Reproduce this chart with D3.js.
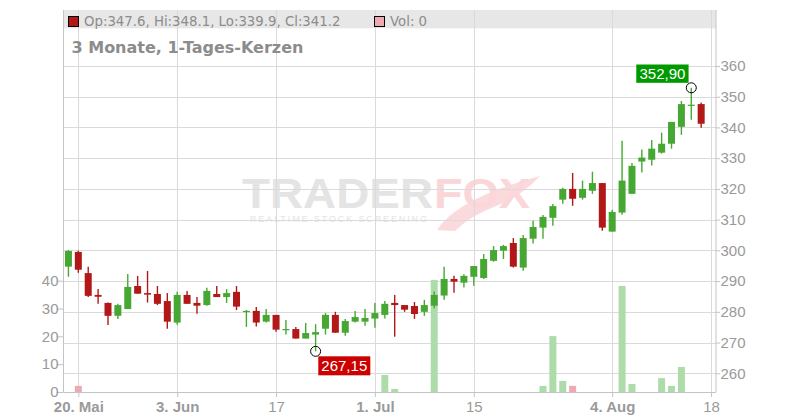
<!DOCTYPE html>
<html><head><meta charset="utf-8">
<script src="https://cdn.jsdelivr.net/npm/d3@7"></script>
<style>html,body{margin:0;padding:0;background:#fff;}svg{display:block;font-family:"Liberation Sans",Arial,sans-serif;}</style>
</head><body>
<svg id="c" width="800" height="420"></svg>
<script>
// ---- data ----
const openP  = [294.7,299.5,292.6,285.5,282.9,278.7,280.9,288.4,286.1,285.8,283.5,276.5,285.5,282.9,282.2,285.8,284.8,286.5,280.0,280.3,276.8,279.0,274.1,274.4,271.3,272.6,274.5,279.0,273.2,276.8,276.8,277.8,279.0,282.9,282.2,281.9,280.0,282.0,285.3,290.7,289.5,291.4,291.0,296.6,299.9,302.4,294.4,303.8,307.4,310.6,316.5,320.0,317.1,319.4,321.9,306.1,312.3,318.4,328.9,329.5,331.8,334.7,340.2,347.1,347.6];
const highP  = [300.1,299.9,294.7,287.4,283.0,282.6,292.3,291.7,293.3,288.4,286.1,286.5,286.8,284.8,287.8,288.4,287.4,288.4,280.6,281.6,280.9,279.0,277.3,275.1,276.4,276.0,279.6,280.0,277.7,280.3,280.9,282.9,283.5,285.5,282.2,283.2,283.9,286.6,294.7,291.7,292.2,294.9,298.8,301.4,301.8,304.0,305.0,309.6,311.5,315.1,320.4,325.2,322.7,325.6,321.9,313.2,335.7,328.4,332.8,335.9,338.3,341.8,348.6,352.9,348.1];
const lowP   = [291.4,292.7,284.8,282.6,275.7,277.7,280.9,285.9,283.0,282.2,274.5,275.8,282.6,279.4,282.0,284.8,282.9,280.6,275.1,275.2,276.5,273.5,272.6,271.3,271.3,267.15,272.6,273.2,272.2,276.5,275.5,274.8,277.8,271.9,280.0,277.7,278.7,281.2,283.9,286.2,287.9,288.5,290.7,296.3,297.2,294.4,293.4,302.2,303.8,308.0,315.2,314.5,316.5,318.4,306.4,306.1,311.6,318.4,325.3,327.6,331.5,333.1,337.6,342.5,339.9];
const closeP = [299.8,293.7,285.2,284.9,278.7,282.2,288.1,285.9,285.6,282.6,276.8,285.5,282.6,282.0,286.8,284.8,286.1,281.7,280.3,276.5,279.0,274.2,274.4,271.3,273.1,273.4,279.0,273.2,277.0,278.3,278.0,279.6,282.6,282.2,280.7,279.3,282.2,285.5,290.7,289.8,291.7,294.9,297.2,300.1,301.4,294.7,304.0,307.6,310.9,314.4,320.0,316.8,320.0,321.9,307.4,312.5,322.7,327.5,330.2,333.1,334.7,341.8,347.6,347.4,341.2];
const volume = [0,2.2,0,0,0,0,0,0,0,0, 0,0,0,0,0,0,0,0,0,0, 0,0,0,0,0,0,0,0,0,0, 0,0,6.1,1.1,0,0,0,40.3,0,0, 0,0,0,0,0,0,0,0,2.2,20.1, 4.0,2.2,0,0,0,0,38.1,2.9,0,0, 5.0,2.2,9.0,0,0];
const volDownIdx = [1, 51];
const xTickIdx = [1, 11, 21, 31, 41, 55, 65];
const xTickLabels = ["20. Mai","3. Jun","17","1. Jul","15","4. Aug","18"];
const xTickBold = [true, true, false, true, false, true, false];
const priceTicks = [260,270,280,290,300,310,320,330,340,350,360];
const volTicks = [0,10,20,30,40];
const titleText = "3 Monate, 1-Tages-Kerzen";
const legendOHLC = "Op:347.6, Hi:348.1, Lo:339.9, Cl:341.2";
const legendVol = "Vol: 0";
const highLabel = "352,90", lowLabel = "267,15";

// ---- layout ----
const L = 63.5, R = 716, T = 10, B = 392;
const GREEN = "#46a832", RED = "#b21818", VGREEN = "#addcaa", VPINK = "#efa9b3";
const GRID = "#dadada", TXT = "#9a9a9a";
const DJ = '"DejaVu Sans",Verdana,sans-serif';

const svg = d3.select("#c");
const x = d3.scaleLinear().domain([-0.5, 65.5]).range([L, R]);
const yP = d3.scaleLinear().domain([253.91, 378.22]).range([B, T]);
const yV = d3.scaleLinear().domain([0, 137.3]).range([B, T]);

// header bar
svg.append("rect").attr("x", L).attr("y", T).attr("width", R - L).attr("height", 18.3).attr("fill", "#e7e7e7");

// watermark
const wm = svg.append("g");
wm.append("text").attr("x", 242).attr("y", 207.7).attr("font-size", 42).attr("font-weight", "bold")
  .attr("textLength", 191).attr("lengthAdjust", "spacingAndGlyphs").attr("fill", "#e4e4e4").text("TRADER");
wm.append("text").attr("x", 434).attr("y", 207.7).attr("font-size", 42).attr("font-weight", "bold")
  .attr("textLength", 96).attr("lengthAdjust", "spacingAndGlyphs").attr("fill", "#fbd6d9").text("FOX");
wm.append("text").attr("x", 250).attr("y", 222).attr("font-size", 9)
  .attr("textLength", 177).attr("lengthAdjust", "spacing").attr("fill", "#e4e4e4").text("REALTIME STOCK SCREENING");
wm.append("path").attr("d", "M437,230 Q458,198 540,176 Q522,196 494,207 Q470,216 455,231 Z").attr("fill", "#fbd6d9").attr("opacity", 0.9);

// grid
svg.append("g").selectAll("line").data(priceTicks).join("line")
  .attr("x1", L).attr("x2", R).attr("y1", d => Math.round(yP(d)) + 0.5).attr("y2", d => Math.round(yP(d)) + 0.5)
  .attr("stroke", GRID).attr("stroke-width", 1);
svg.append("g").selectAll("line").data(xTickIdx).join("line")
  .attr("x1", d => Math.round(x(d)) + 0.5).attr("x2", d => Math.round(x(d)) + 0.5).attr("y1", T).attr("y2", B)
  .attr("stroke", GRID).attr("stroke-width", 1);

// axis lines
svg.append("line").attr("x1", L).attr("x2", L).attr("y1", T).attr("y2", B).attr("stroke", "#c4c4c4");
svg.append("line").attr("x1", R).attr("x2", R).attr("y1", T).attr("y2", B).attr("stroke", "#c4c4c4");
svg.append("line").attr("x1", L).attr("x2", R).attr("y1", B + 0.5).attr("y2", B + 0.5).attr("stroke", "#c4c4c4");

// volume bars
const bw = 7;
svg.append("g").selectAll("rect").data(volume.map((v, i) => ({v, i})).filter(d => d.v > 0)).join("rect")
  .attr("x", d => x(d.i) - bw / 2).attr("width", bw)
  .attr("y", d => yV(d.v)).attr("height", d => yV(0) - yV(d.v))
  .attr("fill", d => volDownIdx.includes(d.i) ? VPINK : VGREEN);

// candles
const candles = openP.map((o, i) => ({i, o, h: highP[i], l: lowP[i], c: closeP[i]}));
const cg = svg.append("g");
cg.selectAll("line").data(candles).join("line")
  .attr("x1", d => x(d.i)).attr("x2", d => x(d.i))
  .attr("y1", d => yP(d.h)).attr("y2", d => yP(d.l))
  .attr("stroke", d => d.c >= d.o ? GREEN : RED).attr("stroke-width", 1.4);
cg.selectAll("rect").data(candles).join("rect")
  .attr("x", d => x(d.i) - bw / 2).attr("width", bw)
  .attr("y", d => yP(Math.max(d.o, d.c)))
  .attr("height", d => Math.max(1.2, Math.abs(yP(d.o) - yP(d.c))))
  .attr("fill", d => d.c >= d.o ? GREEN : RED);

// axes
const styleAxis = g => {
  g.select(".domain").remove();
  g.selectAll(".tick line").attr("stroke", "#c4c4c4");
  g.selectAll(".tick text").attr("fill", TXT).attr("font-size", 15).attr("font-family", '"Liberation Sans",Arial,sans-serif');
};
svg.append("g").attr("transform", `translate(${R},0)`)
  .call(d3.axisRight(yP).tickValues(priceTicks).tickSize(4).tickPadding(0.5).tickSizeOuter(0)).call(styleAxis);
svg.append("g").attr("transform", `translate(${L},0)`)
  .call(d3.axisLeft(yV).tickValues(volTicks).tickSize(7).tickPadding(-2).tickSizeOuter(0)).call(styleAxis);
const xa = svg.append("g").attr("transform", `translate(0,${B})`)
  .call(d3.axisBottom(x).tickValues(xTickIdx).tickFormat((d, i) => xTickLabels[i]).tickSize(5).tickPadding(4).tickSizeOuter(0))
  .call(styleAxis);
xa.selectAll(".tick text").attr("font-weight", (d, i) => xTickBold[i] ? "bold" : "normal");

// legend
svg.append("rect").attr("x", 68.5).attr("y", 16.5).attr("width", 10).attr("height", 10).attr("fill", RED).attr("stroke", "#000").attr("stroke-width", 1);
svg.append("text").attr("x", 84).attr("y", 26.3).attr("font-size", 13.3).attr("font-family", DJ).attr("fill", "#8c8c8c").text(legendOHLC);
svg.append("rect").attr("x", 374.5).attr("y", 16.5).attr("width", 10).attr("height", 10).attr("fill", VPINK).attr("stroke", "#000").attr("stroke-width", 1);
svg.append("text").attr("x", 390).attr("y", 26.3).attr("font-size", 13.3).attr("font-family", DJ).attr("fill", "#8c8c8c").text(legendVol);

// title
svg.append("text").attr("x", 71.5).attr("y", 53.3).attr("font-size", 16).attr("font-weight", "bold").attr("font-family", DJ).attr("fill", "#8c8c8c").text(titleText);

// high / low markers
const hiIdx = highP.indexOf(d3.max(highP)), loIdx = lowP.indexOf(d3.min(lowP));
const hx = x(hiIdx), hy = yP(highP[hiIdx]), lx = x(loIdx), ly = yP(lowP[loIdx]);
svg.append("circle").attr("cx", hx).attr("cy", hy).attr("r", 5).attr("fill", "none").attr("stroke", "#000");
svg.append("circle").attr("cx", lx).attr("cy", ly).attr("r", 5).attr("fill", "none").attr("stroke", "#000");
svg.append("rect").attr("x", hx - 55).attr("y", hy - 23.3).attr("width", 52.3).attr("height", 18.3).attr("fill", "#009900");
svg.append("text").attr("x", hx - 28.8).attr("y", hy - 8.6).attr("text-anchor", "middle").attr("font-size", 15).attr("fill", "#fff").text(highLabel);
svg.append("rect").attr("x", lx + 2.7).attr("y", ly + 5).attr("width", 52).attr("height", 19).attr("fill", "#cc0000");
svg.append("text").attr("x", lx + 28.7).attr("y", ly + 20).attr("text-anchor", "middle").attr("font-size", 15).attr("fill", "#fff").text(lowLabel);
</script>
</body></html>
